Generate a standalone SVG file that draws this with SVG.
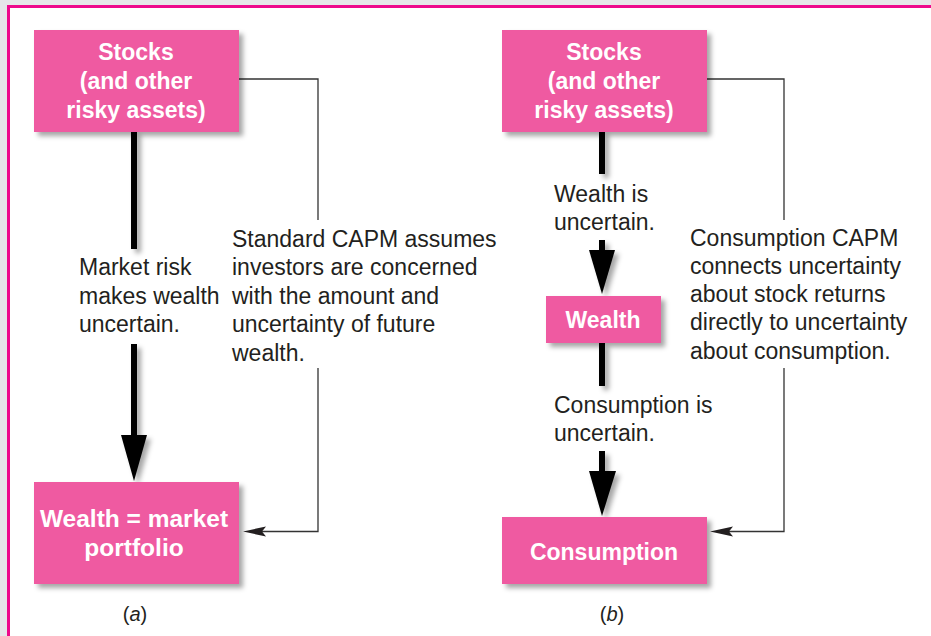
<svg xmlns="http://www.w3.org/2000/svg" width="931" height="636" viewBox="0 0 931 636">
<defs>
<filter id="sh" x="-20%" y="-20%" width="150%" height="150%">
<feDropShadow dx="4" dy="4" stdDeviation="2.5" flood-color="#000" flood-opacity="0.35"/>
</filter>
<style>
.box{fill:#EF5AA1;filter:url(#sh)}
.bt{font-family:"Liberation Sans",Arial,sans-serif;font-weight:bold;font-size:23px;fill:#fff;text-anchor:middle}
.bt.big{font-size:24.5px}
.lt{font-family:"Liberation Sans",Arial,sans-serif;font-size:23px;fill:#231F20}
.cap{font-family:"Liberation Sans",Arial,sans-serif;font-size:20px;fill:#231F20;text-anchor:middle}
.thick{stroke:#000;stroke-width:6;fill:none}
.thin{stroke:#333;stroke-width:1.3;fill:none}
.head{fill:#000}
.thead{fill:#231F20}
</style>
</defs>
<rect x="0" y="0" width="931" height="636" fill="#E6E7E9"/>
<rect x="8.5" y="6.5" width="930" height="640" fill="#fff" stroke="#EE0A8C" stroke-width="3"/>

<g id="connectors">
<g filter="url(#sh)">
<line class="thick" x1="134" y1="131" x2="134" y2="249"/>
<line class="thick" x1="134" y1="344" x2="134" y2="438"/>
<polygon class="head" points="121,435 147,435 134,481"/>
<line class="thick" x1="602" y1="131" x2="602" y2="174"/>
<line class="thick" x1="602" y1="240" x2="602" y2="252"/>
<polygon class="head" points="589,250 615,250 602,294"/>
<line class="thick" x1="602" y1="343" x2="602" y2="386"/>
<line class="thick" x1="602" y1="451" x2="602" y2="473"/>
<polygon class="head" points="589,471 616,471 602,516"/>
</g>
<polyline class="thin" points="239,79 318,79 318,220"/>
<polyline class="thin" points="318,368 318,531.5 262,531.5"/>
<polygon class="thead" points="243,531.5 266,526.5 262,531.5 266,536.5"/>
<polyline class="thin" points="707,79 784,79 784,220"/>
<polyline class="thin" points="784,368 784,531.5 729,531.5"/>
<polygon class="thead" points="710,531.5 733,526.5 729,531.5 733,536.5"/>
</g>

<g id="stocks-a">
<rect class="box" x="34" y="30" width="205" height="102"/>
<text class="bt" x="136" y="60">Stocks</text>
<text class="bt" x="136" y="89">(and other</text>
<text class="bt" x="136" y="118">risky assets)</text>
</g>
<g id="wealth-market">
<rect class="box" x="34" y="482" width="205" height="102"/>
<text class="bt big" x="134" y="527">Wealth = market</text>
<text class="bt big" x="134" y="556">portfolio</text>
</g>
<g id="stocks-b">
<rect class="box" x="502" y="30" width="205" height="102"/>
<text class="bt" x="604" y="60">Stocks</text>
<text class="bt" x="604" y="89">(and other</text>
<text class="bt" x="604" y="118">risky assets)</text>
</g>
<g id="wealth">
<rect class="box" x="546" y="296" width="115" height="47"/>
<text class="bt" x="603" y="328">Wealth</text>
</g>
<g id="consumption">
<rect class="box" x="502" y="517" width="205" height="67"/>
<text class="bt" x="604" y="560">Consumption</text>
</g>

<g id="labels">
<text class="lt" x="79" y="275">Market risk</text>
<text class="lt" x="79" y="304">makes wealth</text>
<text class="lt" x="79" y="332">uncertain.</text>
<text class="lt" x="232" y="247">Standard CAPM assumes</text>
<text class="lt" x="232" y="275">investors are concerned</text>
<text class="lt" x="232" y="304">with the amount and</text>
<text class="lt" x="232" y="332">uncertainty of future</text>
<text class="lt" x="232" y="361">wealth.</text>
<text class="lt" x="554" y="202">Wealth is</text>
<text class="lt" x="554" y="230">uncertain.</text>
<text class="lt" x="554" y="413">Consumption is</text>
<text class="lt" x="554" y="441">uncertain.</text>
<text class="lt" x="690" y="246">Consumption CAPM</text>
<text class="lt" x="690" y="274">connects uncertainty</text>
<text class="lt" x="690" y="302">about stock returns</text>
<text class="lt" x="690" y="330">directly to uncertainty</text>
<text class="lt" x="690" y="359">about consumption.</text>
<text class="cap" x="135" y="621">(<tspan font-style="italic">a</tspan>)</text>
<text class="cap" x="612" y="621">(<tspan font-style="italic">b</tspan>)</text>
</g>
</svg>
